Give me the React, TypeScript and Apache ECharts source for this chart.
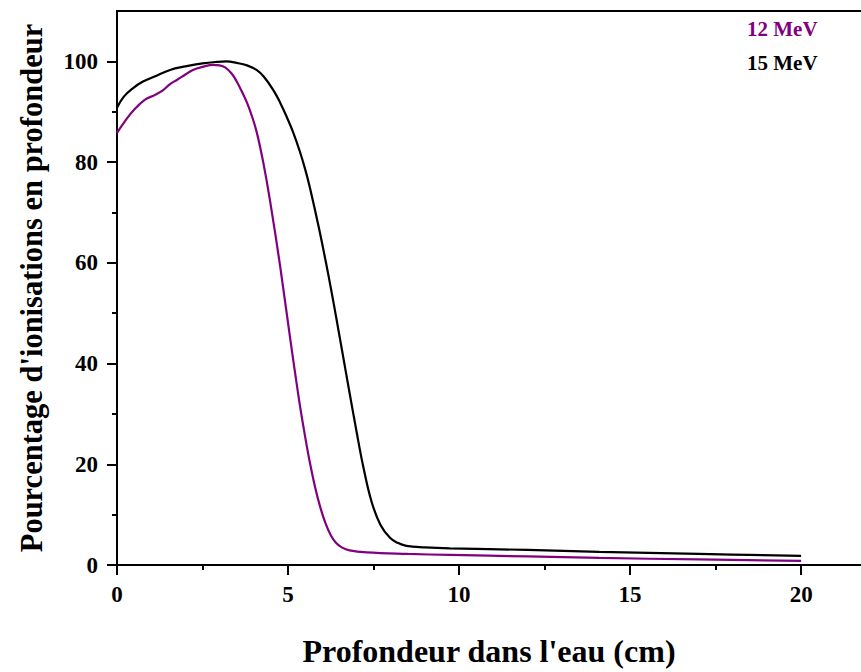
import React, { useEffect, useRef } from "react";
import * as echarts from "echarts";

const depth12 = [0, 0.25, 0.5, 0.82, 1.1, 1.35, 1.55, 1.75, 2.0, 2.22, 2.5, 2.81, 3.0, 3.16, 3.35, 3.5, 3.65, 3.8, 3.95, 4.09, 4.28, 4.47, 4.77, 5.04, 5.32, 5.5, 5.64, 5.8, 5.95, 6.1, 6.25, 6.4, 6.57, 6.8, 7.3, 8.5, 9.74, 12, 14.1, 17, 20];
const pdd12 = [85.8, 88.3, 90.4, 92.4, 93.3, 94.3, 95.5, 96.3, 97.4, 98.3, 98.9, 99.3, 99.2, 98.8, 97.6, 96.0, 94.0, 91.8, 89.0, 85.8, 79.8, 72.5, 59.3, 46.1, 32.9, 25.5, 20.3, 15.2, 11.3, 8.2, 5.9, 4.4, 3.5, 2.9, 2.5, 2.2, 2.0, 1.7, 1.4, 1.1, 0.8];

const depth15 = [0, 0.2, 0.47, 0.76, 1.1, 1.55, 2.0, 2.5, 2.92, 3.2, 3.5, 3.8, 4.08, 4.3, 4.57, 4.77, 4.96, 5.15, 5.35, 5.5, 5.64, 5.9, 6.11, 6.27, 6.42, 6.6, 6.78, 7.0, 7.2, 7.44, 7.7, 7.98, 8.2, 8.46, 9.0, 9.73, 12, 14.1, 17, 20];
const pdd15 = [90.8, 93.0, 94.7, 96.0, 97.0, 98.3, 99.0, 99.6, 99.9, 100.0, 99.7, 99.2, 98.3, 96.9, 94.3, 91.8, 89.0, 85.9, 82.0, 78.6, 74.9, 67.0, 60.0, 54.3, 48.7, 41.8, 34.9, 26.6, 19.5, 12.6, 8.0, 5.4, 4.4, 3.8, 3.5, 3.3, 3.0, 2.6, 2.2, 1.8];

const xMajorTicks = [0, 5, 10, 15, 20];
const xMinorTicks = [2.5, 7.5, 12.5, 17.5];
const yMajorTicks = [0, 20, 40, 60, 80, 100];
const yMinorTicks = [10, 30, 50, 70, 90];
const seriesNames = ["12 MeV", "15 MeV"];

const FONT = "Liberation Serif";

export default function App() {
  const ref = useRef<HTMLDivElement>(null);
  useEffect(() => {
    if (!ref.current) return;
    const chart = echarts.init(ref.current, null, { renderer: "svg" });
    const xMax = 21.75;
    const yMax = 110;
    const axisLineStyle = { color: "#000", width: 2 };
    const labelStyle = { fontFamily: FONT, fontWeight: "bold" as const, fontSize: 23, color: "#000" };
    chart.setOption({
      animation: false,
      backgroundColor: "#fff",
      grid: { left: 117, right: 0, top: 11, bottom: 106, containLabel: false },
      xAxis: [
        {
          type: "value",
          position: "bottom",
          min: 0,
          max: xMax,
          interval: 5,
          splitLine: { show: false },
          axisLine: { lineStyle: axisLineStyle },
          axisTick: { show: true, length: 10, lineStyle: { width: 2, color: "#000" }, customValues: xMajorTicks },
          axisLabel: { ...labelStyle, margin: 18, customValues: xMajorTicks },
          name: "Profondeur dans l'eau (cm)",
          nameLocation: "middle",
          nameGap: 70,
          nameTextStyle: { fontFamily: FONT, fontWeight: "bold", fontSize: 32, color: "#000" },
        },
        {
          type: "value",
          position: "bottom",
          min: 0,
          max: xMax,
          interval: 5,
          splitLine: { show: false },
          axisLine: { show: false },
          axisTick: { show: true, length: 5, lineStyle: { width: 2, color: "#000" }, customValues: xMinorTicks },
          axisLabel: { show: false },
        },
        {
          type: "value",
          position: "top",
          min: 0,
          max: xMax,
          splitLine: { show: false },
          axisLine: { show: true, lineStyle: axisLineStyle },
          axisTick: { show: false },
          axisLabel: { show: false },
        },
      ],
      yAxis: [
        {
          type: "value",
          position: "left",
          min: 0,
          max: yMax,
          interval: 20,
          splitLine: { show: false },
          axisLine: { show: true, lineStyle: axisLineStyle },
          axisTick: { show: true, length: 10, lineStyle: { width: 2, color: "#000" }, customValues: yMajorTicks },
          axisLabel: { ...labelStyle, margin: 19, customValues: yMajorTicks },
          name: "Pourcentage d'ionisations en profondeur",
          nameLocation: "middle",
          nameGap: 70,
          nameTextStyle: { fontFamily: FONT, fontWeight: "bold", fontSize: 30.5, color: "#000" },
        },
        {
          type: "value",
          position: "left",
          min: 0,
          max: yMax,
          interval: 10,
          splitLine: { show: false },
          axisLine: { show: false },
          axisTick: { show: true, length: 5, lineStyle: { width: 2, color: "#000" }, customValues: yMinorTicks },
          axisLabel: { show: false },
        },
      ],
      series: [
        {
          name: seriesNames[0],
          type: "line",
          xAxisIndex: 0,
          yAxisIndex: 0,
          showSymbol: false,
          smooth: 0.4,
          data: depth12.map((d, i) => [d, pdd12[i]]),
          lineStyle: { color: "#800080", width: 2.2 },
          itemStyle: { color: "#800080" },
        },
        {
          name: seriesNames[1],
          type: "line",
          xAxisIndex: 0,
          yAxisIndex: 0,
          showSymbol: false,
          smooth: 0.4,
          data: depth15.map((d, i) => [d, pdd15[i]]),
          lineStyle: { color: "#000", width: 2.2 },
          itemStyle: { color: "#000" },
        },
      ],
      graphic: [
        {
          type: "text",
          x: 747,
          y: 29,
          style: { text: seriesNames[0], fill: "#800080", fontFamily: FONT, fontWeight: "bold", fontSize: 21, verticalAlign: "middle", align: "left" },
        },
        {
          type: "text",
          x: 747,
          y: 63,
          style: { text: seriesNames[1], fill: "#000", fontFamily: FONT, fontWeight: "bold", fontSize: 21, verticalAlign: "middle", align: "left" },
        },
      ],
    });
    return () => chart.dispose();
  }, []);
  return <div ref={ref} style={{ position: "absolute", left: 0, top: 0, width: 861, height: 672 }} />;
}
